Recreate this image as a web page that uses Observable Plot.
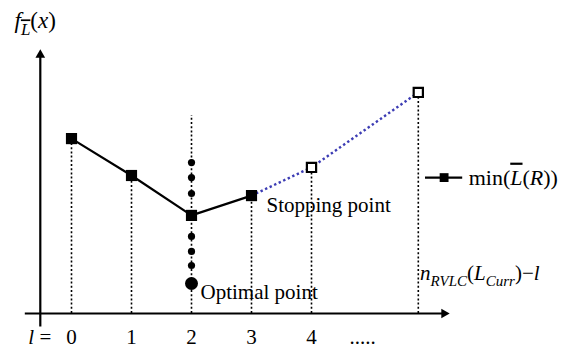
<!DOCTYPE html>
<html><head><meta charset="utf-8">
<script src="https://cdn.jsdelivr.net/npm/d3@7"></script>
<script src="https://cdn.jsdelivr.net/npm/@observablehq/plot@0.6"></script>
<style>
body{margin:0;background:#fff}
</style>
</head><body><div id="chart"></div>
<script>
// ---- data ----
const steps      = [0, 1, 2, 3, 4, 5.78];          // l positions (last = n_RVLC(L_Curr) - l)
const values     = [5.83, 4.6, 3.27, 3.93, 4.87, 7.37]; // f value of each step
const evaluated  = [true, true, true, true, false, false];
const tickPos    = [0, 1, 2, 3, 4, 4.85];
const tickLabels = ["0", "1", "2", "3", "4", "....."];
const searchDots = [5.03, 4.53, 4.0, 2.57, 2.07, 1.6];   // small dots on l = 2
const optimal    = {step: 2, value: 1.0, guideTop: 6.6};
const stopIndex  = 3;
const titleText  = "fL\u0304(x)";
const legendText = "min(L\u0304(R))";
const endLabel   = "nRVLC(LCurr)\u2212l";
const lLabel     = "l =";

const pts = steps.map((x, i) => ({x, y: values[i], filled: evaluated[i], i}));
const solid = pts.filter(d => d.i <= stopIndex);
const dotted = pts.filter(d => d.i >= stopIndex);

// rich-text segments (italic / subscript / overline)
const rich = {
  [titleText]: [{t:"f", i:1}, {t:"L", i:1, sub:7, size:17, over:1}, {t:"("}, {t:"x", i:1}, {t:")"}],
  [legendText]: [{t:"min("}, {t:"L", i:1, over:1}, {t:"("}, {t:"R", i:1}, {t:"))"}],
  [endLabel]: [{t:"n", i:1}, {t:"RVLC", i:1, sub:6, size:15}, {t:"("}, {t:"L", i:1}, {t:"Curr", i:1, sub:6, size:15}, {t:")"}, {t:"\u2212"}, {t:"l", i:1}],
  [lLabel]: [{t:"l", i:1}, {t:" ="}]
};

const W = 572, H = 349;
const x0px = 71, xUnit = 60, y0px = 313, yUnit = 30;
const blue = "#3c3cb4";
const dash = "2,2.2";
const serif = "'Liberation Serif', 'Times New Roman', Times, 'DejaVu Serif', serif";

const plot = Plot.plot({
  width: W, height: H,
  marginLeft: 0, marginRight: 0, marginTop: 0, marginBottom: 0,
  x: {domain: [-x0px / xUnit, (W - x0px) / xUnit], range: [0, W], axis: null},
  y: {domain: [-(H - y0px) / yUnit, y0px / yUnit], range: [H, 0], axis: null},
  style: `background:#fff;color:#000;font-family:${serif};`,
  marks: [
    // dotted guides from each point down to axis
    Plot.ruleX(pts, {x: "x", y1: 0, y2: d => d.x === optimal.step ? optimal.guideTop : d.y,
      stroke: "#000", strokeWidth: 1.6, strokeDasharray: dash}),
    // axes
    Plot.ruleY([0], {x1: -0.77, x2: 6.2, stroke: "#000", strokeWidth: 2.2}),
    Plot.ruleX([-0.52], {y1: -0.45, y2: 8.6, stroke: "#000", strokeWidth: 2.2}),
    Plot.dot([0], {x: 6.21, y: 0, symbol: "triangle", r: 3.6, fill: "#000", rotate: 90}),
    Plot.dot([0], {x: -0.52, y: 8.62, symbol: "triangle", r: 3.6, fill: "#000"}),
    // lines
    Plot.line(solid, {x: "x", y: "y", stroke: "#000", strokeWidth: 2.2}),
    Plot.line(dotted, {x: "x", y: "y", stroke: blue, strokeWidth: 2.4, strokeDasharray: "2.4,2.6", strokeLinecap: "butt"}),
    // search dots & optimal point
    Plot.dot(searchDots, {x: () => optimal.step, y: d => d, r: 3.6, fill: "#000"}),
    Plot.dot([optimal], {x: "step", y: "value", r: 6.5, fill: "#000"}),
    // squares
    Plot.dot(pts.filter(d => d.filled), {x: "x", y: "y", symbol: "square", r: 6.3, fill: "#000"}),
    Plot.dot(pts.filter(d => !d.filled), {x: "x", y: "y", symbol: "square", r: 5.2, fill: "#fff", stroke: "#000", strokeWidth: 2.2}),
    // annotations
    Plot.text(["Stopping point"], {x: steps[stopIndex] + 0.25, y: values[stopIndex] - 0.33, text: d => d, textAnchor: "start", fontSize: 21, fill: "#000", fontFamily: serif}),
    Plot.text(["Optimal point"], {x: optimal.step + 0.15, y: optimal.value - 0.3, text: d => d, textAnchor: "start", fontSize: 21, fill: "#000", fontFamily: serif}),
    Plot.text([endLabel], {x: steps[5] + 0.03, y: 1.35, text: d => d, textAnchor: "start", fontSize: 21, fill: "#000", fontFamily: serif}),
    // tick labels
    Plot.text(tickPos, {x: d => d, y: -0.8, text: (d, i) => tickLabels[i], fontSize: 21, fill: "#000", fontFamily: serif}),
    Plot.text([lLabel], {x: -0.72, y: -0.8, text: d => d, textAnchor: "start", fontSize: 21, fill: "#000", fontFamily: serif}),
    // legend
    Plot.ruleY([4.53], {x1: 5.9, x2: 6.52, stroke: "#000", strokeWidth: 2.2}),
    Plot.dot([0], {x: 6.21, y: 4.53, symbol: "square", r: 5, fill: "#000"}),
    Plot.text([legendText], {x: 6.62, y: 4.53, text: d => d, textAnchor: "start", fontSize: 22, fill: "#000", fontFamily: serif}),
    // title
    Plot.text([titleText], {x: -0.95, y: 9.75, text: d => d, textAnchor: "start", fontSize: 23, fill: "#000", fontFamily: serif})
  ]
});

d3.select(plot).selectAll("text").each(function () {
  this.style.fontFamily = serif;
  const segs = rich[this.textContent];
  if (!segs) return;
  const el = d3.select(this);
  el.text(null);
  let shift = 0;
  for (const s of segs) {
    const target = s.sub || 0;
    const ts = el.append("tspan").text(s.t);
    if (target !== shift) { ts.attr("dy", target - shift); shift = target; }
    if (s.i) ts.attr("font-style", "italic");
    if (s.size) ts.attr("font-size", s.size);
    if (s.over) ts.style("text-decoration", "overline");
  }
});

document.getElementById("chart").append(plot);
</script>
</body></html>
